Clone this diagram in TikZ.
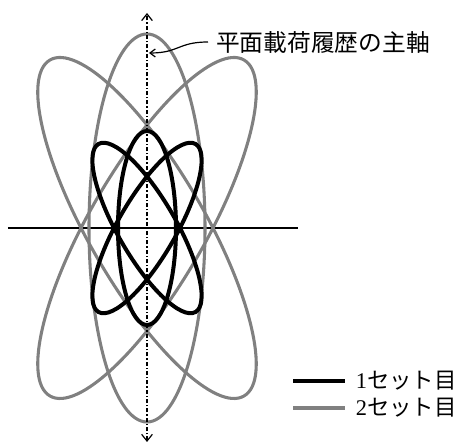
\documentclass[tikz,border=0pt]{standalone}
\usepackage{fontspec}
\setmainfont{Liberation Serif}
\newfontfamily\cjk{Noto Sans CJK JP}
\usepackage{tikz}
\usetikzlibrary{arrows.meta,calc,positioning}

\begin{document}
\begin{tikzpicture}[x=0.75pt,y=0.75pt,
  set1/.style={line width=3pt,black},
  set2/.style={line width=2.3pt,gray},
  lbl/.style={inner sep=0pt,font=\fontsize{17.8}{18}\selectfont},
  leglbl/.style={inner sep=0pt,font=\fontsize{16.8}{17}\selectfont}]
\useasboundingbox (0,0) rectangle (462,445);
\coordinate (O) at (147,217);
\draw[line width=1.2pt] (8,217) -- (298,217);
% 2nd set
\foreach \a in {-30,0,30}
  \draw[set2,rotate around={\a:(O)}] (O) ellipse [x radius=58, y radius=194];
% 1st set
\foreach \a in {-30,0,30}
  \draw[set1,rotate around={\a:(O)}] (O) ellipse [x radius=29, y radius=97];
% principal axis
\coordinate (ax1) at (147,3);
\coordinate (ax2) at (147,432);
\draw[{Straight Barb[length=5pt,width=8pt]}-{Straight Barb[length=5pt,width=8pt]},
  line width=0.9pt,dash pattern=on 3pt off 1.5pt on 1pt off 1.5pt] (ax1) -- (ax2);
\node[lbl,anchor=west,inner xsep=6pt] (title) at (208,403) {\cjk 平面載荷履歴の主軸};
\coordinate (hit) at (149,392);
\draw[-{Straight Barb[length=4pt,width=6pt]},line width=0.9pt]
  (title.west) .. controls +(-30,0) and +(30,0) .. (hit);
% legend
\node[leglbl,anchor=west,inner xsep=8pt] (leg1) at (345,64) {1\cjk セット目};
\node[leglbl,anchor=west,inner xsep=8pt] (leg2) at (345,37) {2\cjk セット目};
\draw[set1] (leg1.west) -- +(-52,0);
\draw[set2] (leg2.west) -- +(-52,0);
\end{tikzpicture}
\end{document}
